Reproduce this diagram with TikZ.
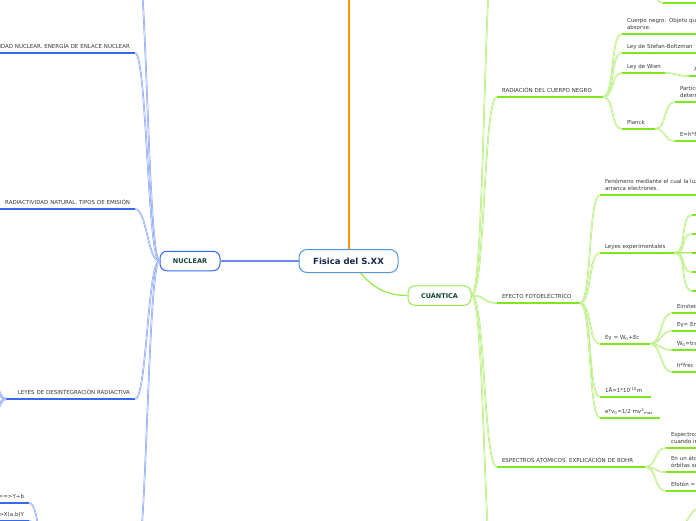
\documentclass[tikz,border=0pt]{standalone}
\usepackage{fontspec}
\setmainfont{DejaVu Sans}
\usepackage{tikz}

\definecolor{fisblue}{RGB}{85,150,220}
\definecolor{fistext}{RGB}{22,38,78}
\definecolor{fisline}{RGB}{105,140,240}
\definecolor{nucblue}{RGB}{55,105,240}
\definecolor{nucthin}{RGB}{125,155,248}
\definecolor{cuagreen}{RGB}{125,230,30}
\definecolor{cuathin}{RGB}{170,236,100}
\definecolor{cuaborder}{RGB}{155,232,85}
\definecolor{topictext}{RGB}{18,70,55}
\definecolor{labeltext}{RGB}{55,55,55}
\definecolor{orangeline}{RGB}{255,150,0}

\begin{document}
\begin{tikzpicture}[x=1pt,y=-1pt,
    mainbox/.style={draw=fisblue, line width=1pt, rounded corners=8pt, fill=white, text=fistext,
        font=\bfseries\fontsize{8.5}{10}\selectfont, minimum width=99pt, minimum height=23pt},
    topic/.style={line width=1pt, rounded corners=7pt, fill=white, text=topictext,
        font=\bfseries\fontsize{6.5}{8}\selectfont, minimum height=19.5pt},
    rlabel/.style={anchor=south west, align=left, inner xsep=5pt, inner ysep=2.4pt, outer sep=0pt,
        text=labeltext, font=\fontsize{5.5}{7}\selectfont, execute at end node=\strut},
    llabel/.style={rlabel, anchor=south east, align=right},
    bline/.style={draw=nucblue, line width=1.3pt},
    gline/.style={draw=cuagreen, line width=1.3pt},
    bcon/.style={draw=nucthin, line width=0.45pt, double=nucthin!30, double distance=0.7pt},
    gcon/.style={draw=cuathin, line width=0.45pt, double=cuathin!30, double distance=0.7pt},
    mmcurve/.style={to path={.. controls +(#1,0) and +(-#1,0) .. (\tikztotarget)}},
    mmcurve/.default=12]

    \useasboundingbox (0,0) rectangle (696,520);
    \clip (0,0) rectangle (696,520);
    \fill[white] (0,0) rectangle (696,520);

    % centre and the two main topics
    \node[mainbox] (fis) at (348.5,261) {Fisica del S.XX};
    \node[topic, draw=nucblue, minimum width=60pt] (nuc) at (190,261) {NUCLEAR};
    \node[topic, draw=cuaborder, minimum width=63pt] (cua) at (439.5,295.5) {CUÁNTICA};
    \coordinate (otop) at (348.5,-20);

    \draw[draw=orangeline, line width=2pt] (fis.north) -- (otop);
    \draw[draw=fisline, line width=1.3pt] (fis.west) -- (nuc.east);
    \draw[draw=cuathin!60!cuagreen, line width=1.2pt] (fis.-45) .. controls +(12,14) and +(-22,0) .. (cua.west);

    % NUCLEAR side
    \node[llabel, text width=250pt] (ene) at (135,53) {ESTABILIDAD NUCLEAR. ENERGÍA DE ENLACE NUCLEAR};
    \node[llabel, text width=150pt] (rat) at (135,209) {RADIACTIVIDAD NATURAL. TIPOS DE EMISIÓN};
    \node[llabel, text width=119pt] (lde) at (135,399) {LEYES DE DESINTEGRACIÓN RADIACTIVA};
    \node[llabel, text width=60pt] (xyb) at (29,503) {X==>Y+b};
    \node[llabel, text width=60pt] (xab) at (29,521) {=>X(a,b)Y};
    \coordinate (ntop) at (135,-60);
    \coordinate (nbot) at (135,570);
    \coordinate (nbs) at (50,570);
    \coordinate (lc1) at (-12,372);
    \coordinate (lc2) at (-12,386);
    \coordinate (lc3) at (-12,414);
    \coordinate (lc4) at (-12,428);

    \foreach \n in {ene,rat,lde,xyb,xab}
        \draw[bline] (\n.south west) -- (\n.south east);
    \draw[bline] (nbs) -- (nbot);
    \foreach \t in {ntop,ene.south east,rat.south east,lde.south east,nbot}
        \draw[bcon] (nuc.west) to[mmcurve=-12] (\t);
    \foreach \t in {lc1,lc2,lc3,lc4}
        \draw[bcon] (lde.south west) to[mmcurve=-8] (\t);
    \draw[bcon] (nbs) to[mmcurve=-12] (xyb.south east);
    \draw[bcon] (nbs) to[mmcurve=-12] (xab.south east);

    % CUANTICA side
    \node[rlabel, text width=96pt] (rad) at (497,97) {RADIACIÓN DEL CUERPO NEGRO};
    \node[rlabel, text width=73pt] (efe) at (497,303) {EFECTO FOTOELÉCTRICO};
    \node[rlabel, text width=138pt] (esp) at (497,467) {ESPECTROS ATÓMICOS. EXPLICACIÓN DE BOHR};
    \coordinate (gtop) at (497,-80);
    \coordinate (gbot) at (497,600);

    \node[rlabel, text width=110pt] (cue) at (622,34) {Cuerpo negro: Objeto que\\absorve.};
    \node[rlabel, text width=110pt] (ste) at (622,53) {Ley de Stefan-Boltzman};
    \node[rlabel, text width=33pt] (wie) at (622,73) {Ley~de~Wien};
    \node[rlabel, text width=23pt] (pla) at (622,129) {Planck};
    \node[rlabel, text width=40pt] (wil) at (689,76) {λ};
    \node[rlabel, text width=60pt] (par) at (675,102) {Partículas\\determinadas};
    \node[rlabel, text width=60pt] (ehf) at (675,141) {E=h*f};

    \node[rlabel, text width=150pt] (fen) at (600,195) {Fenómeno mediante el cual la luz\\arranca electrones.};
    \node[rlabel, text width=65pt] (ley) at (600,253) {Leyes experimentales};
    \node[rlabel, text width=40pt] (eg) at (600,344) {Eγ~=~W\textsubscript{0}+Ec};
    \node[rlabel, text width=41pt] (ang) at (600,397) {1Å=1*10\textsuperscript{-10}m};
    \node[rlabel, text width=50pt] (ev) at (600,418) {e*v\textsubscript{0}=1/2~mv\textsuperscript{2}\textsubscript{max}};
    \node[rlabel, text width=80pt] (ein) at (672,313) {Einstein};
    \node[rlabel, text width=80pt] (egn) at (672,331) {Eγ= Energía};
    \node[rlabel, text width=80pt] (wtr) at (672,350) {W\textsubscript{0}=trabajo};
    \node[rlabel, text width=80pt] (hfr) at (672,372) {h*frec =};

    \node[rlabel, text width=80pt] (esc) at (666,448) {Espectro:\\cuando ir};
    \node[rlabel, text width=80pt] (enu) at (666,472) {En un átomo\\órbitas se};
    \node[rlabel, text width=80pt] (efo) at (666,491) {Efotón =};

    \foreach \n in {rad,efe,esp,cue,ste,wie,pla,wil,par,ehf,fen,ley,eg,ang,ev,ein,egn,wtr,hfr,esc,enu,efo}
        \draw[gline] (\n.south west) -- (\n.south east);

    \foreach \t in {gtop,rad.south west,efe.south west,esp.south west,gbot}
        \draw[gcon] (cua.east) to[mmcurve=14] (\t);
    \foreach \t in {cue,ste,wie,pla}
        \draw[gcon] (rad.south east) to[mmcurve] (\t.south west);
    \draw[gcon] (wie.south east) to[mmcurve] (wil.south west);
    \foreach \t in {par,ehf}
        \draw[gcon] (pla.south east) to[mmcurve] (\t.south west);
    \foreach \t in {fen,ley,eg,ang,ev}
        \draw[gcon] (efe.south east) to[mmcurve] (\t.south west);
    \foreach \t in {ein,egn,wtr,hfr}
        \draw[gcon] (eg.south east) to[mmcurve] (\t.south west);
    \foreach \t in {esc,enu,efo}
        \draw[gcon] (esp.south east) to[mmcurve] (\t.south west);

    % children of Leyes experimentales, text off the page
    \foreach \y [count=\i] in {215,234,253,272,291} {
        \coordinate (lx\i) at (692,\y);
        \draw[gcon] (ley.south east) to[mmcurve] (lx\i);
        \draw[gline] (lx\i) -- ++(30,0);
    }

    % branches whose parents lie off the page
    \coordinate (upp) at (645,-25);
    \coordinate (upc) at (663,3);
    \draw[gcon] (upp) to[mmcurve] (upc);
    \draw[gline] (upc) -- ++(40,0);
    \coordinate (lowp) at (670,540);
    \coordinate (lowc) at (700,508);
    \draw[gcon] (lowp) to[mmcurve] (lowc);
\end{tikzpicture}
\end{document}
